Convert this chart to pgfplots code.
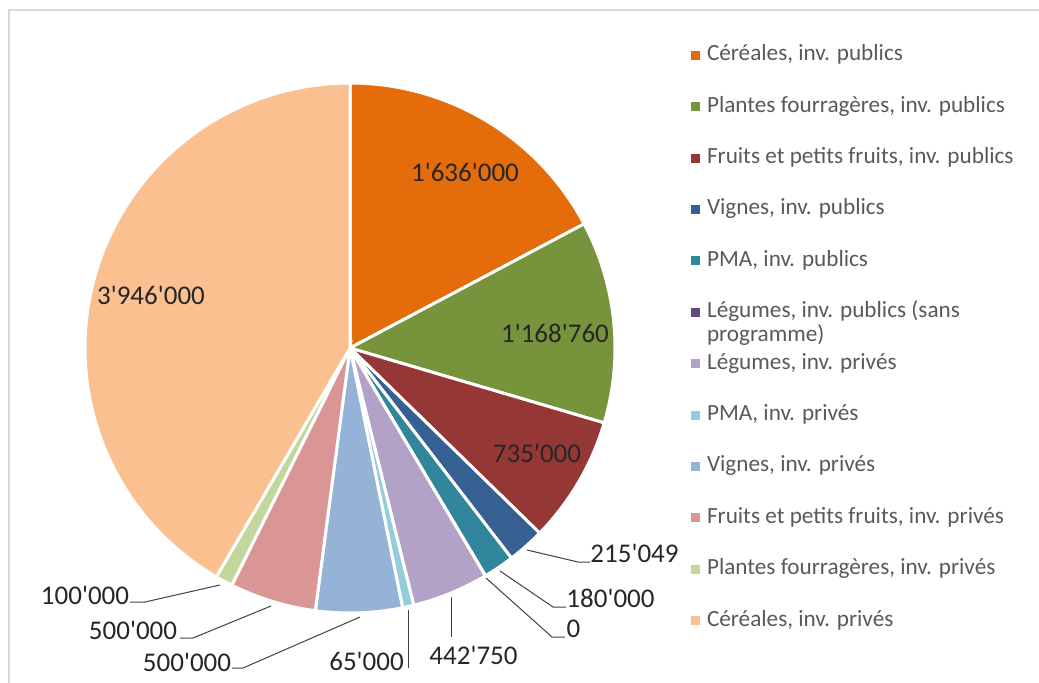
\documentclass[border=0pt]{standalone}
\usepackage{pgfplots}
\pgfplotsset{compat=1.18}
\usepackage{pgfplotstable}
\usepackage{fontspec}
\setmainfont{Carlito}
\newcommand\q{\textquotesingle}

\definecolor{c1}{HTML}{E46C0A}
\definecolor{c2}{HTML}{77933C}
\definecolor{c3}{HTML}{953735}
\definecolor{c4}{HTML}{376092}
\definecolor{c5}{HTML}{31859C}
\definecolor{c6}{HTML}{604A7B}
\definecolor{c7}{HTML}{B3A2C7}
\definecolor{c8}{HTML}{93CDDD}
\definecolor{c9}{HTML}{95B3D7}
\definecolor{c10}{HTML}{D99694}
\definecolor{c11}{HTML}{C3D69B}
\definecolor{c12}{HTML}{FAC090}
\definecolor{legtext}{HTML}{595959}
\definecolor{labtext}{HTML}{262626}
\definecolor{frame}{HTML}{D9D9D9}

% values of the 12 slices, clockwise from 12 o'clock
\pgfplotstableread{
value
1636000
1168760
735000
215049
180000
0
442750
65000
500000
500000
100000
3946000
}\piedata

\xdef\pietotal{0}
\pgfplotstableforeachcolumnelement{value}\of\piedata\as\v{\xdef\pietotal{\fpeval{\pietotal+\v}}}
\xdef\cur{90}
\pgfplotstableforeachcolumnelement{value}\of\piedata\as\v{%
  \expandafter\xdef\csname pieA\pgfplotstablerow\endcsname{\cur}%
  \xdef\cur{\fpeval{round(\cur-360*\v/\pietotal,4)}}%
  \expandafter\xdef\csname pieB\pgfplotstablerow\endcsname{\cur}}

\newcommand\slice[3]{%
  \edef\tmp{\noexpand\addplot[fill=#2, draw=white, line width=1.5pt,
    domain=\csname pieB#1\endcsname:\fpeval{max(\csname pieA#1\endcsname, \csname pieB#1\endcsname+0.05)},
    samples=\fpeval{max(2, round(\csname pieA#1\endcsname-\csname pieB#1\endcsname)+2)}]}%
  \tmp ({cos(x)},{sin(x)}) -- (axis cs:0,0) -- cycle;
  \addlegendentry{#3}}

\begin{document}
\begin{tikzpicture}[x=0.5pt,y=0.5pt]
\useasboundingbox (0,0) rectangle (1039,682);
\draw[frame, line width=1pt] (8.5,-5) -- (8.5,672) -- (1045,672);
\begin{axis}[
  at={(175pt,167pt)}, anchor=center,
  scale only axis, width=265pt, height=265pt,
  xmin=-1, xmax=1, ymin=-1, ymax=1,
  hide axis, clip=false,
  legend image code/.code={\fill[#1,draw=none] (0pt,-2.25pt) rectangle (4.5pt,2.25pt);},
  legend cell align=left,
  legend style={at={(1.1434,1.0740)}, anchor=north west, draw=none, fill=none,
    inner sep=0pt, outer sep=0pt, row sep=14.2pt, column sep=3.5pt,
    nodes={inner sep=0pt, text height=8.5pt, text depth=3pt, text=legtext,
      font=\fontsize{11.6pt}{12pt}\selectfont}},
]
\slice{0}{c1}{Céréales, inv. publics}
\slice{1}{c2}{Plantes fourragères, inv. publics}
\slice{2}{c3}{Fruits et petits fruits, inv. publics}
\slice{3}{c4}{Vignes, inv. publics}
\slice{4}{c5}{PMA, inv. publics}
\slice{5}{c6}{\parbox[t]{150pt}{\baselineskip=12pt Légumes, inv. publics (sans\\programme)}}
\slice{6}{c7}{Légumes, inv. privés}
\slice{7}{c8}{PMA, inv. privés}
\slice{8}{c9}{Vignes, inv. privés}
\slice{9}{c10}{Fruits et petits fruits, inv. privés}
\slice{10}{c11}{Plantes fourragères, inv. privés}
\slice{11}{c12}{Céréales, inv. privés}
\end{axis}
\begin{scope}[every node/.style={text=labtext, inner sep=0pt, font=\fontsize{13.5pt}{16pt}\selectfont}]
\node at (465,510) {1\q636\q000};
\node at (555,349) {1\q168\q760};
\node at (537,229) {735\q000};
\node at (151,387) {3\q946\q000};
\node at (634.5,129) {215\q049};
\node at (610.5,84) {180\q000};
\node at (573.5,53) {0};
\node at (473.5,27) {442\q750};
\node at (366.5,21) {65\q000};
\node at (187,20) {500\q000};
\node at (133,52) {500\q000};
\node at (85,87) {100\q000};
\end{scope}
\begin{scope}[draw=black!75, line width=0.5pt]
\draw (527,132) -- (578,120) -- (590,120);
\draw (500,111) -- (553,75) -- (566,75);
\draw (486,104) -- (552,45) -- (565,45);
\draw (451,85) -- (451,45);
\draw (408,72) -- (408,14);
\draw (360,65) -- (243,14) -- (232,14);
\draw (271,76) -- (193,44) -- (180,44);
\draw (220,97) -- (145,80) -- (130,80);
\end{scope}
\end{tikzpicture}
\end{document}
